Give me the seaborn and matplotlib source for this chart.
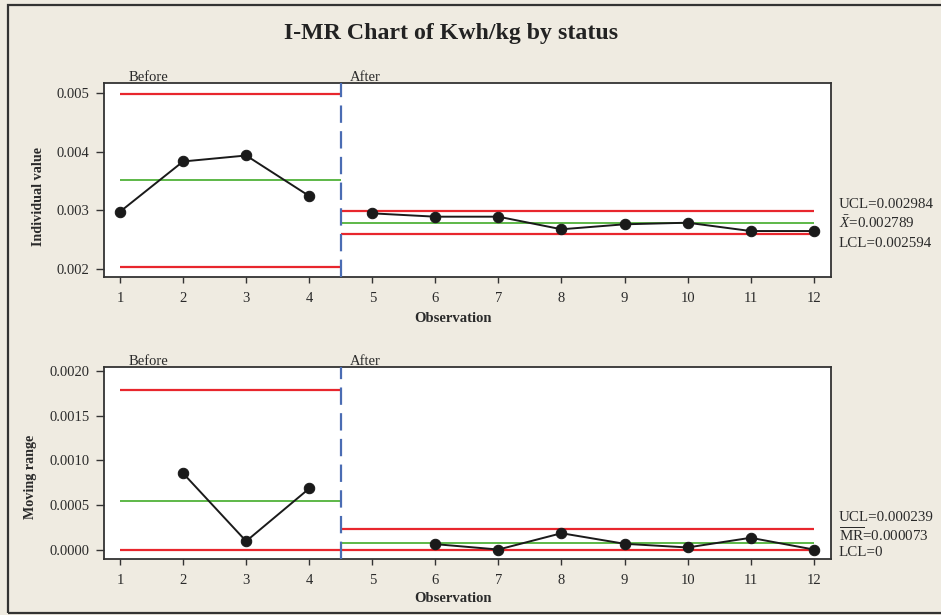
import numpy as np
import pandas as pd
import matplotlib
matplotlib.use("Agg")
import matplotlib.pyplot as plt
import seaborn as sns
from matplotlib.patches import Rectangle

# ---------------- data ----------------
observations = list(range(1, 13))
stage = ["Before"] * 4 + ["After"] * 8
individual = [0.002978, 0.003836, 0.003938, 0.003246, 0.002950, 0.002893,
              0.002893, 0.002678, 0.002763, 0.002790, 0.002648, 0.002648]
moving_range = [np.nan, 0.000856, 0.000098, 0.000686, np.nan, 0.000065,
                0.000005, 0.000187, 0.000069, 0.000028, 0.000136, 0.000005]

stage_names = ["Before", "After"]
stage_start = [1, 4.5]
stage_end = [4.5, 12]
stage_label_x = [1.14, 4.65]

i_ucl = [0.004983, 0.002984]
i_cl = [0.003524, 0.002789]
i_lcl = [0.002035, 0.002594]
mr_ucl = [0.001790, 0.000239]
mr_cl = [0.000548, 0.000073]
mr_lcl = [0.0, 0.0]

x_ticks = list(range(1, 13))
i_yticks = [0.002, 0.003, 0.004, 0.005]
i_ytick_labels = ["0.002", "0.003", "0.004", "0.005"]
mr_yticks = [0.0, 0.0005, 0.0010, 0.0015, 0.0020]
mr_ytick_labels = ["0.0000", "0.0005", "0.0010", "0.0015", "0.0020"]

i_summary = ["UCL=0.002984", r"$\bar{X}$=0.002789", "LCL=0.002594"]
mr_summary = ["UCL=0.000239", r"$\overline{\mathrm{MR}}$=0.000073", "LCL=0"]

df = pd.DataFrame({"obs": observations, "stage": stage,
                   "ind": individual, "mr": moving_range})

# ---------------- style ----------------
sns.set_style("white")
plt.rcParams["font.family"] = ["Liberation Serif", "DejaVu Serif"]
plt.rcParams["mathtext.fontset"] = "custom"
plt.rcParams["mathtext.rm"] = "Liberation Serif"
plt.rcParams["mathtext.it"] = "Liberation Serif:italic"
plt.rcParams["lines.scale_dashes"] = False

BG = "#EFEBE1"
RED = "#E8262D"
GREEN = "#5DB847"
BLUE = "#4A6CB3"
INK = "#1a1a1a"
TXT = "#2a2a2a"

W, H = 941, 615
fig = plt.figure(figsize=(W / 100, H / 100), dpi=100)
fig.patch.set_facecolor(BG)

# outer frame
fig.patches.append(Rectangle((8 / W, 2 / H), 1.2, (H - 7) / H,
                             transform=fig.transFigure, fill=False,
                             edgecolor="#333333", linewidth=1.6))

def fy(px):
    return 1 - px / H

ax1 = fig.add_axes([104 / W, fy(277), (831 - 104) / W, (277 - 83) / H])
ax2 = fig.add_axes([104 / W, fy(559.3), (831 - 104) / W, (559.3 - 367.3) / H])


def style_axes(ax, yticks, ylabels, ylim):
    ax.set_facecolor("white")
    ax.set_xlim(0.746, 12.274)
    ax.set_ylim(*ylim)
    ax.set_xticks(x_ticks)
    ax.set_xticklabels([str(v) for v in x_ticks])
    ax.set_yticks(yticks)
    ax.set_yticklabels(ylabels)
    ax.set_xlabel("")
    ax.set_ylabel("")
    for s in ax.spines.values():
        s.set_color("#333333")
        s.set_linewidth(1.3)
        s.set_visible(True)
    ax.tick_params(axis="y", direction="out", length=5.5, width=1.0,
                   color="#333333", labelsize=10.5, labelcolor=TXT, pad=5,
                   left=True)
    ax.tick_params(axis="x", direction="out", length=4.5, width=1.0,
                   color="#333333", labelsize=10.5, labelcolor=TXT, pad=6,
                   bottom=True)


def draw_panel(ax, col, ucl, cl, lcl):
    for k, name in enumerate(stage_names):
        x0, x1 = stage_start[k], stage_end[k]
        ax.hlines(ucl[k], x0, x1, color=RED, lw=1.6, zorder=2)
        ax.hlines(cl[k], x0, x1, color=GREEN, lw=1.4, zorder=2)
        ax.hlines(lcl[k], x0, x1, color=RED, lw=1.6, zorder=2)
        sub = df[(df["stage"] == name)].dropna(subset=[col])
        sns.lineplot(data=sub, x="obs", y=col, ax=ax, color=INK,
                     linewidth=1.4, marker="o", markersize=7.5,
                     markeredgecolor=INK, markerfacecolor=INK,
                     estimator=None, sort=False, legend=False, zorder=4)
        ax.annotate(name, xy=(stage_label_x[k], 1.0),
                    xycoords=("data", "axes fraction"),
                    xytext=(0, 1.5), textcoords="offset points",
                    ha="left", va="baseline", fontsize=10.5, color=TXT)
    ax.axvline(4.5, color=BLUE, lw=1.6, dashes=(12.5, 6), zorder=3)


draw_panel(ax1, "ind", i_ucl, i_cl, i_lcl)
style_axes(ax1, i_yticks, i_ytick_labels, (0.001863, 0.005176))
draw_panel(ax2, "mr", mr_ucl, mr_cl, mr_lcl)
style_axes(ax2, mr_yticks, mr_ytick_labels, (-0.000104, 0.002038))

# title and axis labels
fig.text(451 / W, fy(34), "I-MR Chart of Kwh/kg by status", ha="center",
         va="center", fontsize=17.2, fontweight="bold", color="#222222")
fig.text(453 / W, fy(318), "Observation", ha="center", va="center",
         fontsize=10.5, fontweight="bold", color=TXT)
fig.text(453 / W, fy(599), "Observation", ha="center", va="center",
         fontsize=10.5, fontweight="bold", color=TXT)
fig.text(39 / W, fy(196), "Individual value", ha="center", va="center",
         rotation=90, fontsize=10.2, fontweight="bold", color=TXT)
fig.text(31 / W, fy(477), "Moving range", ha="center", va="center",
         rotation=90, fontsize=10.2, fontweight="bold", color=TXT)

# summary labels
for txt, ypx in zip(i_summary, [204.3, 222.7, 243.3]):
    fig.text(839 / W, fy(ypx), txt, ha="left", va="center", fontsize=10.8,
             color=TXT)
for txt, ypx in zip(mr_summary, [517.3, 536.0, 553.0]):
    fig.text(839 / W, fy(ypx), txt, ha="left", va="center", fontsize=10.8,
             color=TXT)

fig.savefig("out.png", dpi=100, facecolor=BG)
